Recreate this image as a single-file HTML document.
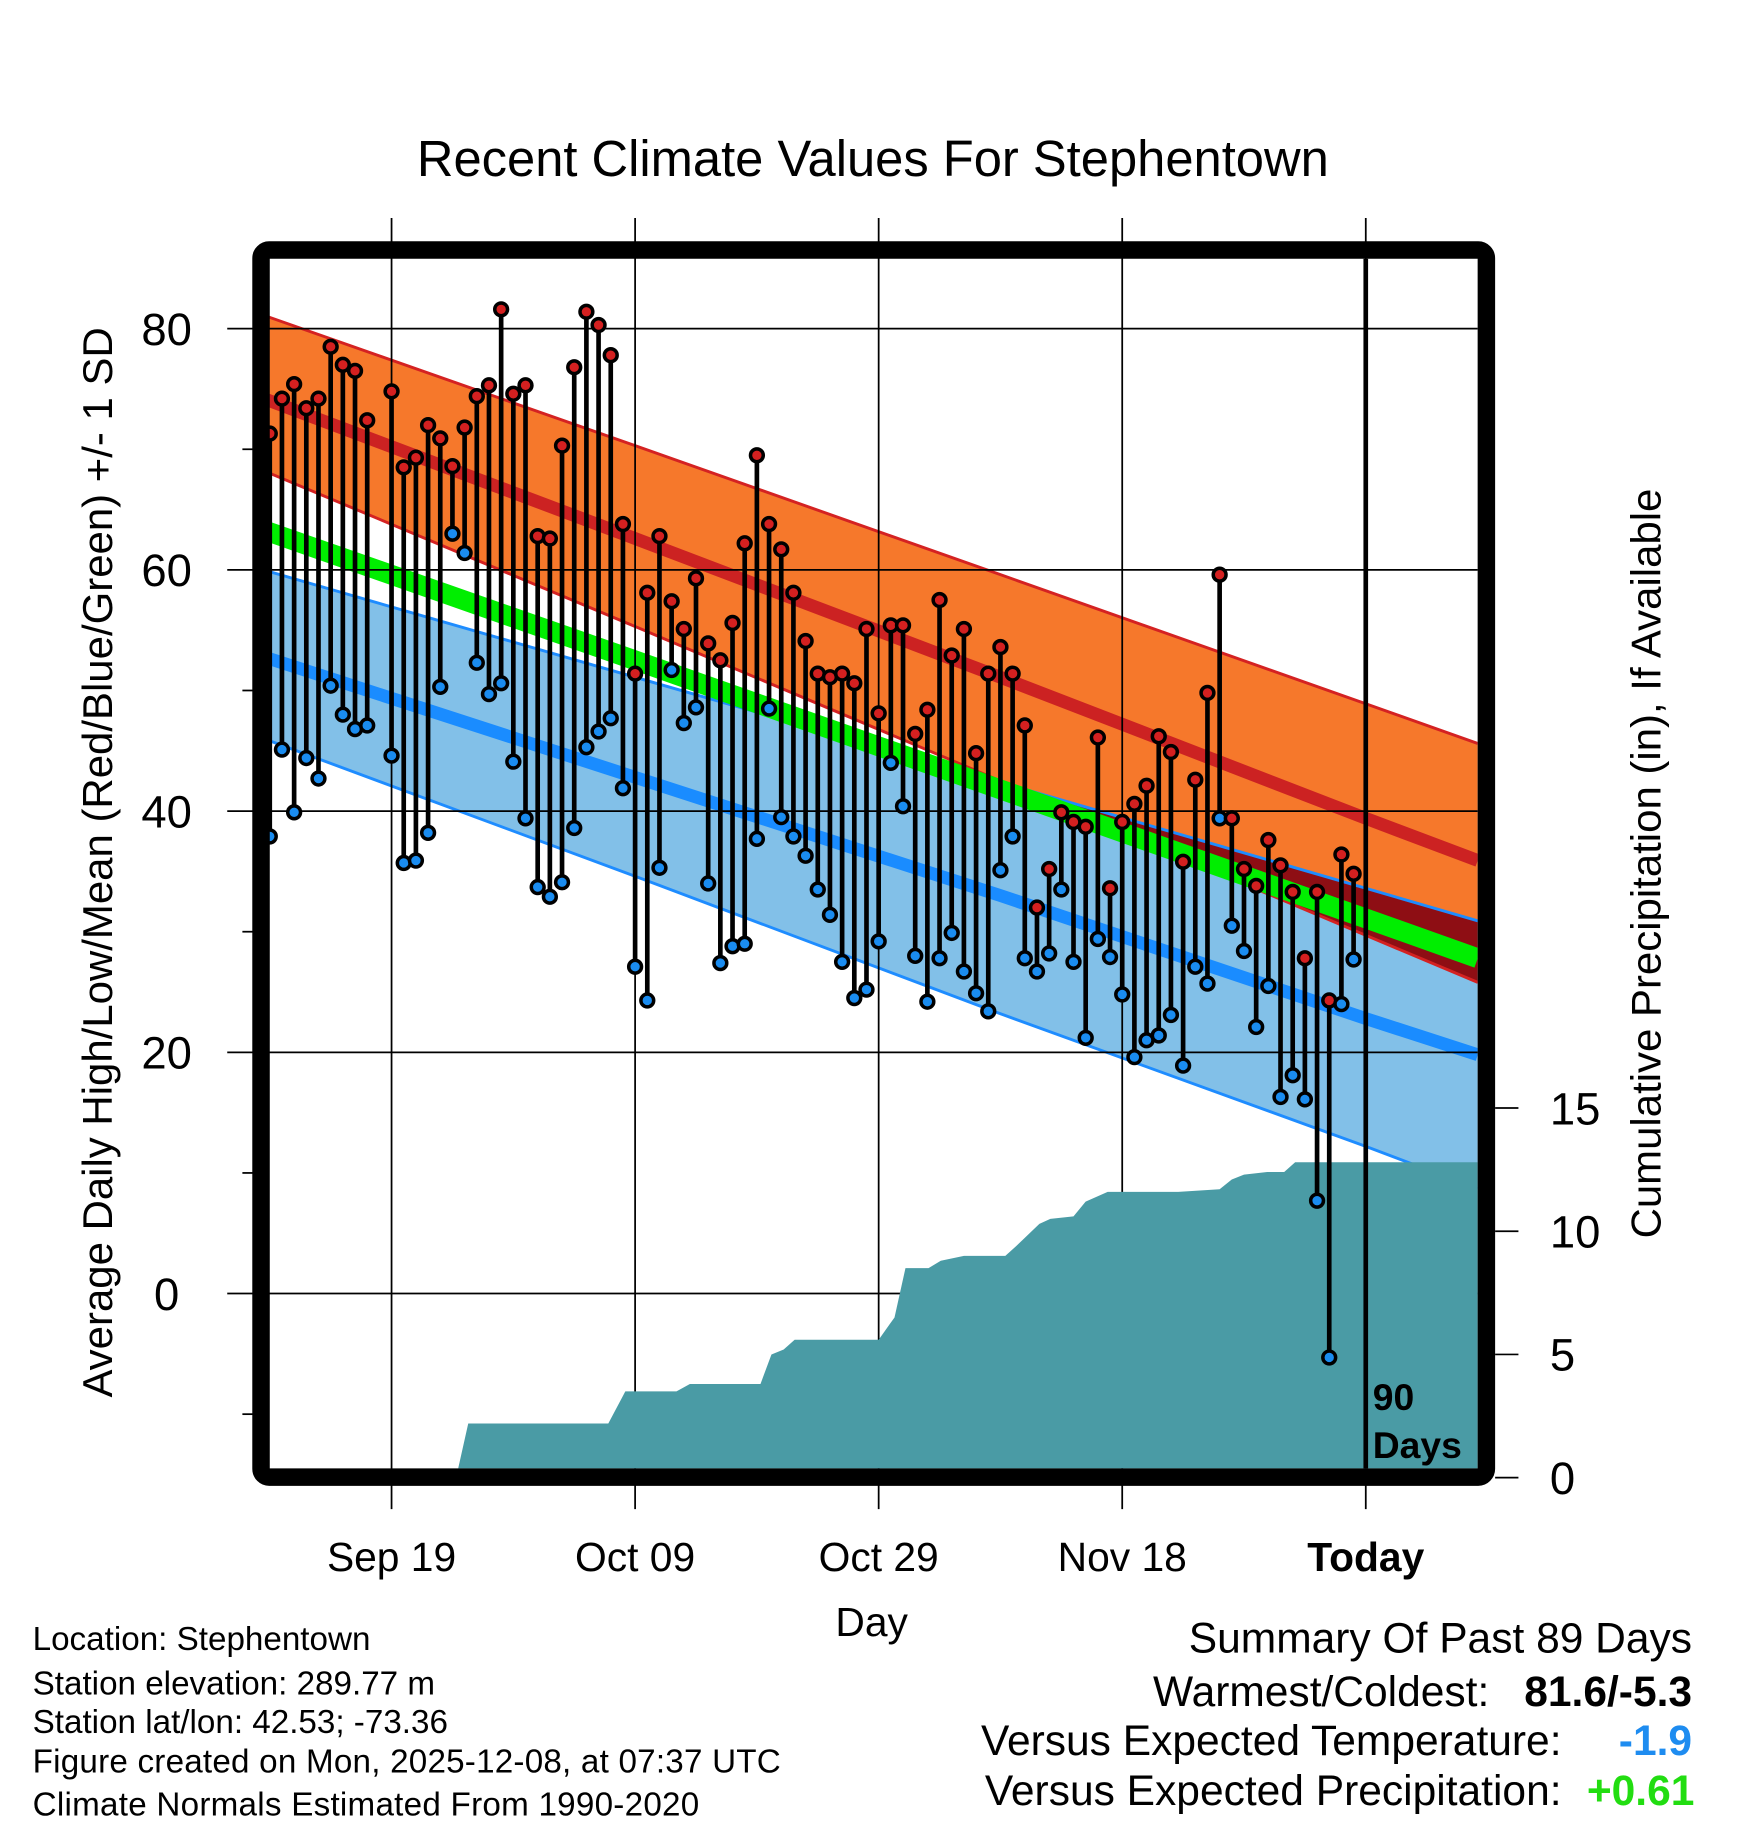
<!DOCTYPE html>
<html><head><meta charset="utf-8"><title>Recent Climate Values For Stephentown</title>
<style>html,body{margin:0;padding:0;background:#fff}svg{display:block}text{font-family:"Liberation Sans",Arial,sans-serif}</style>
</head><body>
<svg id="chart" width="1748" height="1828" viewBox="0 0 1500 1568.6" xmlns="http://www.w3.org/2000/svg">
<text x="749" y="151" font-size="43.5" text-anchor="middle">Recent Climate Values For Stephentown</text>
<defs><clipPath id="plotclip"><rect x="231" y="222" width="1037" height="1038"/></clipPath></defs>
<g id="bands" clip-path="url(#plotclip)"></g>
<g id="grid"></g>
<g id="precip" clip-path="url(#plotclip)"></g>
<g id="marks" clip-path="url(#plotclip)"></g>
<line x1="1172" y1="222" x2="1172" y2="1260" stroke="#000" stroke-width="4"/>
<text x="1178" y="1210" font-size="32" font-weight="bold">90</text>
<text x="1178" y="1251" font-size="32" font-weight="bold">Days</text>
<rect x="224" y="214.5" width="1051.5" height="1053" rx="7" fill="none" stroke="#000" stroke-width="15"/>
<g id="axes"></g>
<text transform="translate(96,740) rotate(-90)" font-size="36" text-anchor="middle">Average Daily High/Low/Mean (Red/Blue/Green) +/- 1 SD</text>
<text transform="translate(1425,741) rotate(-90)" font-size="36" text-anchor="middle">Cumulative Precipitation (in), If Available</text>
<text x="748" y="1404" font-size="35" text-anchor="middle">Day</text>
<g font-size="28.5">
<text x="28" y="1416">Location: Stephentown</text>
<text x="28" y="1454">Station elevation: 289.77 m</text>
<text x="28" y="1487">Station lat/lon: 42.53; -73.36</text>
<text x="28" y="1521" textLength="642">Figure created on Mon, 2025-12-08, at 07:37 UTC</text>
<text x="28" y="1558" textLength="572">Climate Normals Estimated From 1990-2020</text>
</g>
<g font-size="36.5">
<text x="1452" y="1418" text-anchor="end">Summary Of Past 89 Days</text>
<text x="1278" y="1464" text-anchor="end">Warmest/Coldest:</text>
<text x="1452" y="1464" text-anchor="end" font-weight="bold">81.6/-5.3</text>
<text x="1340" y="1506" text-anchor="end">Versus Expected Temperature:</text>
<text x="1452" y="1506" text-anchor="end" font-weight="bold" fill="#1e8cf0">-1.9</text>
<text x="1340" y="1549" text-anchor="end">Versus Expected Precipitation:</text>
<text x="1454" y="1549" text-anchor="end" font-weight="bold" fill="#22dd11">+0.61</text>
</g>
</svg>
<script>
// ---- data ----
var dayOffsets = [-90,-89,-88,-87,-86,-85,-84,-83,-82,-80,-79,-78,-77,-76,-75,-74,-73,-72,-71,-70,-69,-68,-67,-66,-65,-64,-63,-62,-61,-60,-59,-58,-57,-56,-55,-54,-53,-52,-51,-50,-49,-48,-47,-46,-45,-44,-43,-42,-41,-40,-39,-38,-37,-36,-35,-34,-33,-32,-31,-30,-29,-28,-27,-26,-25,-24,-23,-22,-21,-20,-19,-18,-17,-16,-15,-14,-13,-12,-11,-10,-9,-8,-7,-6,-5,-4,-3,-2,-1];
var highs = [71.3,74.2,75.4,73.4,74.2,78.5,77.0,76.5,72.4,74.8,68.5,69.3,72.0,70.9,68.6,71.8,74.4,75.3,81.6,74.6,75.3,62.8,62.6,70.3,76.8,81.4,80.3,77.8,63.8,51.4,58.1,62.8,57.4,55.1,59.3,53.9,52.5,55.6,62.2,69.5,63.8,61.7,58.1,54.1,51.4,51.1,51.4,50.6,55.1,48.1,55.4,55.4,46.4,48.4,57.5,52.9,55.1,44.8,51.4,53.6,51.4,47.1,32.0,35.2,39.9,39.1,38.7,46.1,33.6,39.1,40.6,42.1,46.2,44.9,35.8,42.6,49.8,59.6,39.4,35.2,33.8,37.6,35.5,33.3,27.8,33.3,24.3,36.4,34.8];
var lows = [37.9,45.1,39.9,44.4,42.7,50.4,48.0,46.8,47.1,44.6,35.7,35.9,38.2,50.3,63.0,61.4,52.3,49.7,50.6,44.1,39.4,33.7,32.9,34.1,38.6,45.3,46.6,47.7,41.9,27.1,24.3,35.3,51.7,47.3,48.6,34.0,27.4,28.8,29.0,37.7,48.5,39.5,37.9,36.3,33.5,31.4,27.5,24.5,25.2,29.2,44.0,40.4,28.0,24.2,27.8,29.9,26.7,24.9,23.4,35.1,37.9,27.8,26.7,28.2,33.5,27.5,21.2,29.4,27.9,24.8,19.6,21.0,21.4,23.1,18.9,27.1,25.7,39.4,30.5,28.4,22.1,25.5,16.3,18.1,16.1,7.7,-5.3,24.0,27.7];
var normalDays = [-90.2,-60,-30,0,9.2];
var highUpper = [81.0,70.3,59.6,48.9,45.6];
var highMean = [74.1,62.6,51.1,39.4,35.9];
var highLower = [68.1,55.3,42.5,29.7,25.8];
var meanTemp = [63.2,52.5,41.8,31.1,27.8];
var lowUpper = [59.9,51.1,42.4,33.6,30.9];
var lowMean = [52.7,42.8,33.0,22.8,19.8];
var lowLower = [45.9,34.6,23.2,12.2,8.7];
var precipDays = [-90.2,-74.7,-73.7,-62.2,-60.8,-56.6,-55.5,-49.7,-48.8,-47.8,-46.9,-40.0,-38.7,-37.8,-35.9,-34.9,-33.0,-29.6,-28.7,-26.8,-25.9,-24.0,-23.0,-21.2,-20.2,-15.4,-12.0,-11.0,-10.0,-8.1,-6.7,-5.8,9.2];
var precipTotals = [0,0,2.2,2.2,3.5,3.5,3.8,3.8,5.0,5.2,5.6,5.6,6.5,8.5,8.5,8.8,9.0,9.0,9.4,10.3,10.5,10.6,11.2,11.6,11.6,11.6,11.7,12.1,12.3,12.4,12.4,12.8,12.8];
var yTicks = [0,20,40,60,80];
var yMinorTicks = [-10,10,30,50,70];
var precipTicks = [0,5,10,15];
var xTickDays = [-80,-60,-40,-20,0];
var xTickLabels = ["Sep 19","Oct 09","Oct 29","Nov 18","Today"];

// ---- axes ----
function xs(d){return 1172+d*10.45;}
function ys(t){return 1110-t*10.35;}
function yp(p){return 1268-p*21.15;}
var NS='http://www.w3.org/2000/svg';
function mk(tag,attrs,parent){var e=document.createElementNS(NS,tag);for(var k in attrs)e.setAttribute(k,attrs[k]);parent.appendChild(e);return e;}
var bands=document.getElementById('bands'),grid=document.getElementById('grid'),precip=document.getElementById('precip'),marks=document.getElementById('marks'),axes=document.getElementById('axes');
function linePts(arr){return normalDays.map(function(d,i){return xs(d).toFixed(1)+','+ys(arr[i]).toFixed(1);});}
function bandPts(a,b){return linePts(a).concat(linePts(b).reverse()).join(' ');}

var orange=mk('polygon',{points:bandPts(highUpper,highLower),fill:'#f6782b'},bands);


var blue=mk('polygon',{points:bandPts(lowUpper,lowLower),fill:'#82c0e8'},bands);


var defs=document.querySelector('defs');
var cp=mk('clipPath',{id:'orangeclip'},defs);
mk('polygon',{points:bandPts(highUpper,highLower)},cp);
var ov=mk('polygon',{points:bandPts(lowUpper,lowLower),fill:'#8e0e14','clip-path':'url(#orangeclip)'},bands);


[[highUpper,'#d42222','high-upper-edge'],[highLower,'#d42222','high-lower-edge'],[lowUpper,'#1e8cff','low-upper-edge'],[lowLower,'#1e8cff','low-lower-edge']].forEach(function(s){
  var e=mk('polyline',{points:linePts(s[0]).join(' '),fill:'none',stroke:s[1],'stroke-width':2.5},bands);
  
  
});
var mp=mk('polyline',{points:linePts(meanTemp).join(' '),fill:'none',stroke:'#00ee00','stroke-width':17},bands);


var hm=mk('polyline',{points:linePts(highMean).join(' '),fill:'none',stroke:'#cc2222','stroke-width':11},bands);


var lm=mk('polyline',{points:linePts(lowMean).join(' '),fill:'none',stroke:'#1a8cff','stroke-width':11},bands);



// grid + ticks
yTicks.forEach(function(t){
  var g=mk('line',{x1:195,x2:1268,y1:ys(t),y2:ys(t),stroke:'#000','stroke-width':1.5},grid);
  
  
  var l=mk('text',{x:143,y:ys(t)+14,'font-size':39,'text-anchor':'middle'},axes);
  l.textContent=t;
  
  
});
yMinorTicks.forEach(function(t){
  var g=mk('line',{x1:208,x2:220,y1:ys(t),y2:ys(t),stroke:'#000','stroke-width':1.5},axes);
  
  
});
xTickDays.forEach(function(d,i){
  var g=mk('line',{x1:xs(d),x2:xs(d),y1:187,y2:1295,stroke:'#000','stroke-width':1.5},grid);
  
  
  var l=mk('text',{x:xs(d),y:1348,'font-size':35,'text-anchor':'middle'},axes);
  if(i===xTickLabels.length-1)l.setAttribute('font-weight','bold');
  l.textContent=xTickLabels[i];
  
  
});
precipTicks.forEach(function(p){
  var g=mk('line',{x1:1283,x2:1303,y1:yp(p),y2:yp(p),stroke:'#000','stroke-width':1.5},axes);
  
  
  var l=mk('text',{x:1330,y:yp(p)+14,'font-size':39},axes);
  l.textContent=p;
  
  
});

// precipitation area
var pp=precipDays.map(function(d,i){return xs(d).toFixed(1)+','+yp(precipTotals[i]).toFixed(1);});
pp.push(xs(precipDays[precipDays.length-1]).toFixed(1)+','+yp(0));
pp.push(xs(precipDays[0]).toFixed(1)+','+yp(0));
var pa=mk('polygon',{points:pp.join(' '),fill:'#4a9ba5'},precip);



// stems and points
dayOffsets.forEach(function(d,i){
  var s=mk('line',{x1:xs(d),x2:xs(d),y1:ys(highs[i]),y2:ys(lows[i]),stroke:'#000','stroke-width':4},marks);
  
  
});
dayOffsets.forEach(function(d,i){
  var h=mk('circle',{cx:xs(d),cy:ys(highs[i]),r:5.5,fill:'#d42020',stroke:'#000','stroke-width':3},marks);
  
  
  var l=mk('circle',{cx:xs(d),cy:ys(lows[i]),r:5.5,fill:'#1a8cf0',stroke:'#000','stroke-width':3},marks);
  
  
});
</script>
</body></html>
